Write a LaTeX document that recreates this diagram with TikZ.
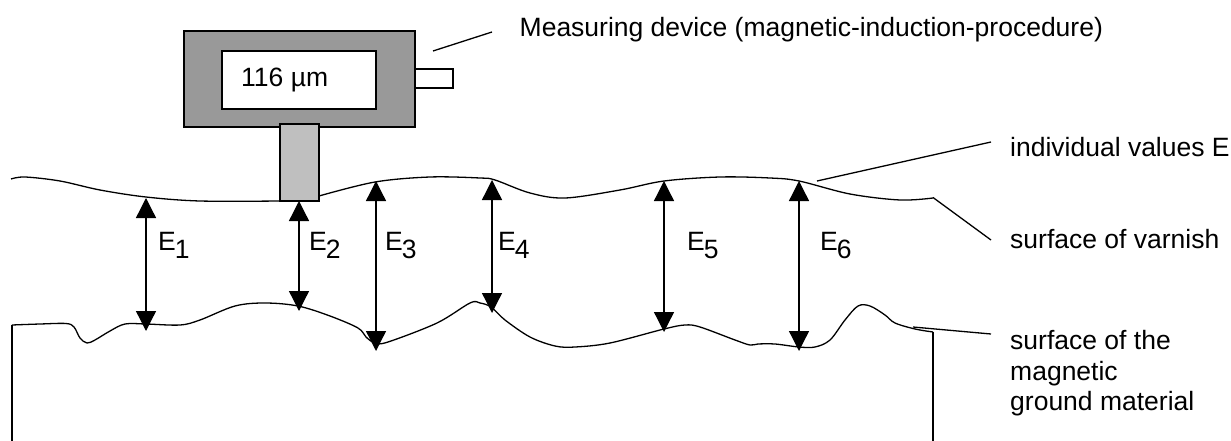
\documentclass[tikz,border=0pt]{standalone}
\usepackage{fontspec}
\setmainfont{Liberation Sans}
\usetikzlibrary{arrows.meta}
\tikzset{
  line/.style={draw=black,line width=1.3pt},
  wave/.style={line,smooth,tension=0.55},
  dev/.style={draw=black,line width=1.4pt,inner sep=0pt,outer sep=0pt},
  dim/.style={draw=black,line width=1.3pt,{Triangle[length=20pt,width=20pt]}-{Triangle[length=20pt,width=20pt]}},
  lab/.style={anchor=base west,inner sep=0pt,font=\fontsize{26.5}{30.5}\selectfont,align=left}
}
\newcommand{\esub}[1]{E\kern-1pt\raisebox{-8pt}{#1}}
\begin{document}
\begin{tikzpicture}[x=1pt,y=-1pt]
\useasboundingbox (0,0) rectangle (1231,441);
% device
\node[dev,fill=black!40,minimum width=231pt,minimum height=96pt] (body) at (299.5,79) {};
\node[dev,fill=white,minimum width=154pt,minimum height=58pt] (screen) at (299,80) {};
\node[dev,fill=white,minimum width=38pt,minimum height=19pt] (side) at (434,78.5) {};
\node[lab] (reading) at (241,87) {116 µm};
% surfaces
\draw[wave] plot coordinates {(11,179) (25,177) (60,181) (100,190) (146,197) (200,201) (280,201)};
\draw[wave] plot coordinates {(319,196) (375,182) (430,177) (480,178) (495,180) (530,193) (565,198) (620,190) (664,181) (720,177) (770,178) (799,181) (850,194) (900,200) (933,198)};
\draw[wave] plot coordinates {(12,325) (40,324) (66,323.5) (74,327) (80,338) (87,343) (95,340) (110,331) (125,324) (146,324) (180,325) (200,320) (235,306) (265,303) (298,306) (330,316) (358,328) (366,337) (375,343) (388,342) (437,323) (470,303) (480,303) (491,307) (505,320) (530,337) (555,346) (575,347) (610,343) (664,329) (685,325) (700,327) (735,340) (750,345) (758,344) (775,344) (799,347) (815,347) (830,340) (845,320) (858,306) (870,306) (885,315) (895,323) (915,329) (933,332)};
\node[dev,fill=black!25,minimum width=39pt,minimum height=77pt] (probe) at (299.5,162.5) {};
% ground walls
\coordinate (gl1) at (12,325); \coordinate (gl2) at (12,441);
\coordinate (gr1) at (933,332); \coordinate (gr2) at (933,441);
\draw[line] (gl1) -- (gl2);
\draw[line] (gr1) -- (gr2);
% leaders
\coordinate (ld1) at (433,51); \coordinate (ld2) at (492,32);
\coordinate (li1) at (817,181); \coordinate (li2) at (991,142);
\coordinate (lv1) at (933,197.5); \coordinate (lv2) at (991,240);
\coordinate (lg1) at (913,327); \coordinate (lg2) at (991,334);
\draw[line] (ld1) -- (ld2);
\draw[line] (li1) -- (li2);
\draw[line] (lv1) -- (lv2);
\draw[line] (lg1) -- (lg2);
% dimension arrows
\foreach \n/\x/\a/\b in {1/146/198/331,2/299/201/311,3/376/181/351,4/492/180/313,5/664/181/332,6/799/181/351}{
  \coordinate (t\n) at (\x,\a);
  \coordinate (b\n) at (\x,\b);
  \draw[dim] (t\n) -- (b\n);
}
% labels
\node[lab] (e1) at (158,250) {\esub{1}};
\node[lab] (e2) at (309,250) {\esub{2}};
\node[lab] (e3) at (385,250) {\esub{3}};
\node[lab] (e4) at (498,250) {\esub{4}};
\node[lab] (e5) at (687,250) {\esub{5}};
\node[lab] (e6) at (820,250) {\esub{6}};
\node[lab] (tdev) at (519.5,37) {Measuring device (magnetic-induction-procedure)};
\node[lab] (tind) at (1010,157) {individual values E};
\node[lab] (tvar) at (1010,248) {surface of varnish};
\node[lab] (tgnd) at (1010,410.5) {surface of the\\magnetic\\ground material};
\end{tikzpicture}
\end{document}
